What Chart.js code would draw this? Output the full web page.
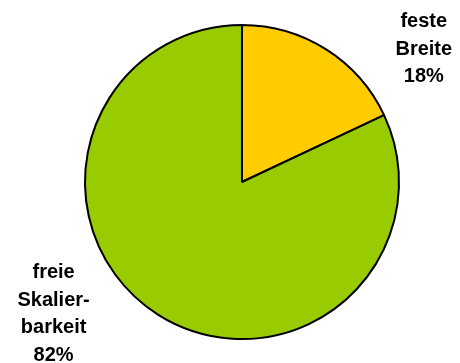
<!DOCTYPE html>
<html>
<head>
<meta charset="utf-8">
<script src="https://cdn.jsdelivr.net/npm/chart.js@4"></script>
<style>
  html, body { margin: 0; padding: 0; background: #fff; }
  canvas { display: block; }
</style>
</head>
<body>
<canvas id="pie" width="460" height="363"></canvas>
<script>
// Data
const labels = [['feste', 'Breite'], ['freie', 'Skalier-', 'barkeit']];
const shares = [18, 82];
const colors = ['#FFCC00', '#99CC00'];

// Label block center relative to pie center, in units of the radius
const labelOffsets = [[1.158, -0.845], [-1.2, 0.84]];

// Draw the category labels beside the pie
const outsideLabels = {
    id: 'outsideLabels',
    afterDraw(chart) {
        const ctx = chart.ctx;
        const arc = chart.getDatasetMeta(0).data[0];
        const r = arc.outerRadius;
        ctx.save();
        ctx.font = 'bold 20px "Liberation Sans", Arial, sans-serif';
        ctx.fillStyle = '#000';
        ctx.textAlign = 'center';
        ctx.textBaseline = 'middle';
        labels.forEach((lines, i) => {
            const all = [...lines, shares[i] + '%'];
            const cx = arc.x + labelOffsets[i][0] * r;
            const cy = arc.y + labelOffsets[i][1] * r;
            const lh = 27.5;
            const top = cy - (all.length - 1) * lh / 2;
            all.forEach((t, j) => ctx.fillText(t, cx, top + j * lh));
        });
        ctx.restore();
    }
};

new Chart(document.getElementById('pie'), {
    type: 'pie',
    data: {
        labels: labels.map(l => l.join(' ')),
        datasets: [{
            data: shares,
            backgroundColor: colors,
            borderColor: '#000',
            borderWidth: 2,
        }],
    },
    options: {
        responsive: false,
        animation: false,
        layout: { padding: { left: 84, right: 60, top: 24, bottom: 23 } },
        plugins: {
            legend: { display: false },
            tooltip: { enabled: false },
        },
    },
    plugins: [outsideLabels],
});
</script>
</body>
</html>
